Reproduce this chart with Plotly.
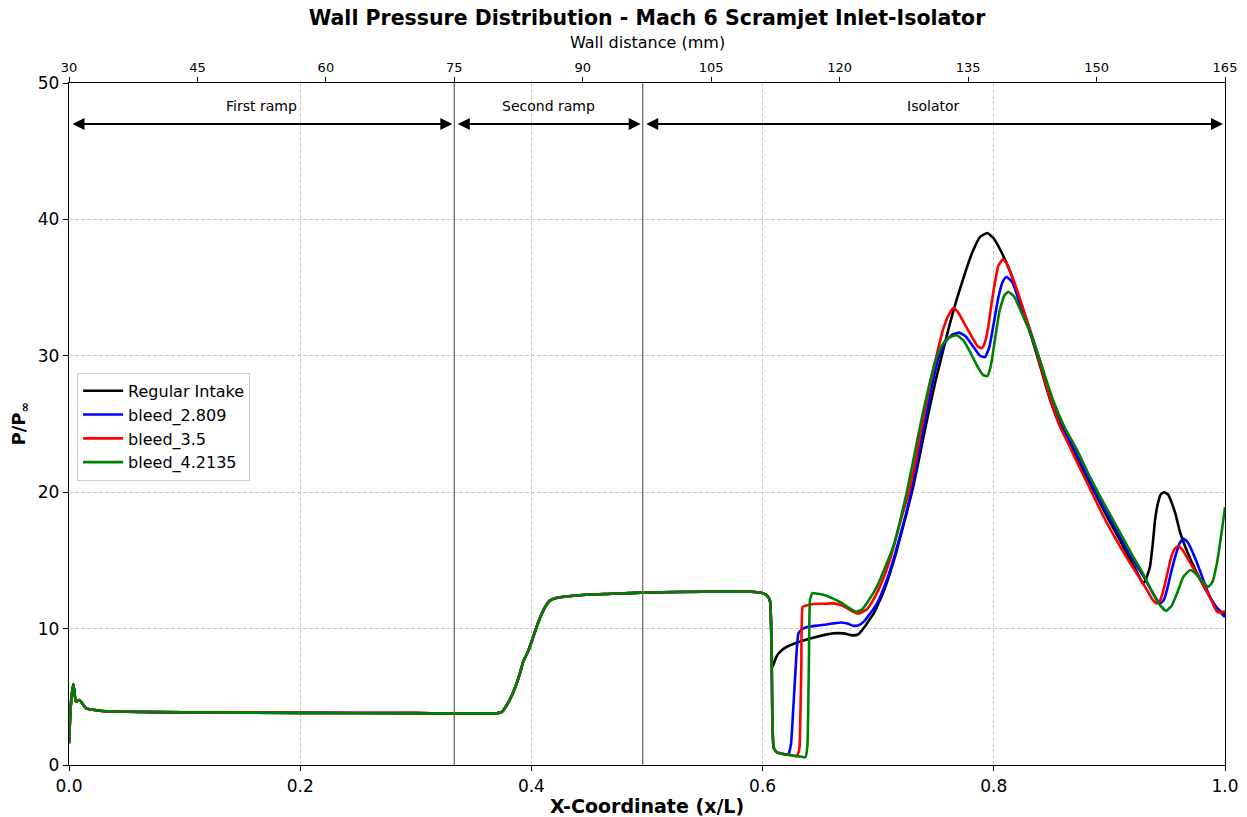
import plotly.graph_objects as go

# ---------------- data ----------------
# shared part of all four curves (x/L, P/Pinf)
x_common = [0.0, 0.0015, 0.0037, 0.006, 0.009, 0.015, 0.027, 0.05, 0.1, 0.2, 0.3, 0.37,
            0.3745, 0.378, 0.382, 0.386, 0.39, 0.393, 0.397, 0.400, 0.404, 0.408, 0.412,
            0.416, 0.42, 0.43, 0.45, 0.47, 0.5, 0.55, 0.59, 0.60, 0.604, 0.6065]
p_common = [1.6, 4.3, 5.94, 4.64, 4.77, 4.15, 3.98, 3.9, 3.86, 3.82, 3.8, 3.8,
            3.9, 4.3, 4.9, 5.7, 6.7, 7.6, 8.3, 9.0, 10.0, 10.9, 11.6,
            12.05, 12.2, 12.35, 12.5, 12.55, 12.65, 12.7, 12.7, 12.6, 12.4, 12.0]

x_regular = [0.6085, 0.610, 0.612, 0.615, 0.621, 0.632, 0.647, 0.661, 0.670, 0.678, 0.683,
             0.688, 0.692, 0.696, 0.70, 0.705, 0.71, 0.715, 0.72, 0.725, 0.73, 0.735, 0.74,
             0.745, 0.75, 0.755, 0.76, 0.765, 0.77, 0.776, 0.782, 0.788, 0.7944, 0.80, 0.806,
             0.814, 0.8195, 0.827, 0.8375, 0.8486, 0.858, 0.869, 0.878, 0.887, 0.898, 0.909,
             0.919, 0.926, 0.929, 0.9315, 0.935, 0.9375, 0.9394, 0.942, 0.9445, 0.9475, 0.951,
             0.954, 0.9575, 0.961, 0.967, 0.975, 0.985, 0.993, 1.0]
p_regular = [7.2, 7.5, 7.94, 8.3, 8.67, 9.04, 9.4, 9.65, 9.65, 9.5, 9.6,
             10.1, 10.6, 11.1, 11.8, 12.8, 14.0, 15.4, 17.0, 18.6, 20.3, 22.3, 24.4,
             26.4, 28.3, 30.0, 31.7, 33.3, 34.7, 36.3, 37.7, 38.7, 39.0, 38.6, 37.7,
             36.2, 34.9, 32.9, 30.0, 26.8, 24.7, 23.0, 21.5, 20.0, 18.2, 16.5,
             14.9, 13.8, 13.3, 13.6, 14.5, 16.2, 17.9, 19.2, 19.85, 20.0, 19.8,
             19.2, 18.3, 17.1, 15.7, 14.2, 12.6, 11.5, 11.0]

x_b2809 = [0.6085, 0.6095, 0.612, 0.615, 0.622, 0.6245, 0.627, 0.6295, 0.631, 0.634, 0.638,
           0.645, 0.655, 0.663, 0.668, 0.674, 0.679, 0.683, 0.688, 0.693, 0.698, 0.703, 0.708,
           0.713, 0.718, 0.724, 0.729, 0.734, 0.740, 0.746, 0.752, 0.758, 0.764, 0.770, 0.776,
           0.782, 0.788, 0.7924, 0.796, 0.800, 0.804, 0.808, 0.811, 0.816, 0.822, 0.8285,
           0.839, 0.850, 0.859, 0.870, 0.879, 0.888, 0.899, 0.910, 0.920, 0.929, 0.937, 0.942,
           0.944, 0.947, 0.950, 0.953, 0.957, 0.961, 0.964, 0.968, 0.975, 0.987, 0.995, 1.0]
p_b2809 = [3.0, 1.3, 0.95, 0.86, 0.75, 1.5, 4.8, 8.4, 9.65, 9.95, 10.1,
           10.2, 10.3, 10.4, 10.45, 10.35, 10.2, 10.25, 10.55, 11.1, 11.7, 12.6, 13.7,
           15.0, 16.5, 18.4, 20.2, 22.4, 25.0, 27.6, 29.8, 31.0, 31.55, 31.7, 31.4,
           30.7, 30.0, 29.9, 30.6, 32.4, 34.3, 35.5, 35.8, 35.4, 34.0, 32.6,
           29.9, 26.8, 24.8, 23.1, 21.5, 20.0, 18.3, 16.6, 15.1, 13.9, 12.7, 12.0,
           11.85, 12.1, 12.9, 14.0, 15.3, 16.3, 16.6, 16.3, 15.0, 12.3, 11.3, 10.85]

x_b35 = [0.6085, 0.6095, 0.612, 0.615, 0.622, 0.6295, 0.631, 0.632, 0.6335, 0.6347, 0.638,
         0.644, 0.652, 0.661, 0.667, 0.673, 0.678, 0.683, 0.690, 0.695, 0.70, 0.705, 0.71,
         0.715, 0.72, 0.7265, 0.732, 0.739, 0.745, 0.751, 0.756, 0.761, 0.765, 0.769, 0.775,
         0.781, 0.786, 0.7895, 0.792, 0.795, 0.798, 0.801, 0.804, 0.8077, 0.811, 0.818,
         0.8275, 0.838, 0.849, 0.858, 0.867, 0.876, 0.8847, 0.895, 0.906, 0.915, 0.9236,
         0.932, 0.9375, 0.941, 0.944, 0.947, 0.950, 0.953, 0.9565, 0.9596, 0.963, 0.970,
         0.980, 0.987, 0.993, 0.997, 1.0]
p_b35 = [3.0, 1.3, 0.95, 0.86, 0.75, 0.65, 0.9, 1.35, 7.2, 11.6, 11.7,
         11.8, 11.82, 11.85, 11.75, 11.5, 11.25, 11.1, 11.4, 12.0, 12.8, 13.8, 15.0,
         16.5, 18.1, 20.0, 22.2, 25.4, 28.0, 30.2, 31.9, 33.0, 33.5, 33.2, 32.3,
         31.4, 30.7, 30.55, 30.9, 32.0, 33.8, 35.4, 36.6, 37.07, 36.8, 35.3,
         32.9, 30.0, 26.8, 24.7, 23.1, 21.5, 20.0, 18.2, 16.5, 15.2, 14.05,
         12.9, 12.1, 11.85, 12.1, 12.9, 14.0, 15.1, 15.85, 16.05, 15.8, 14.8,
         13.4, 12.3, 11.25, 11.15, 11.3]

x_b42135 = [0.6085, 0.6095, 0.612, 0.615, 0.622, 0.630, 0.634, 0.637, 0.6387, 0.640, 0.641,
            0.643, 0.648, 0.654, 0.661, 0.668, 0.675, 0.681, 0.686, 0.692, 0.699, 0.706,
            0.713, 0.719, 0.7247, 0.730, 0.7376, 0.744, 0.749, 0.7535, 0.758, 0.763, 0.768,
            0.774, 0.780, 0.786, 0.7905, 0.7944, 0.7975, 0.801, 0.805, 0.809, 0.8126, 0.818,
            0.8227, 0.829, 0.839, 0.851, 0.861, 0.872, 0.881, 0.890, 0.901, 0.912, 0.921,
            0.929, 0.937, 0.944, 0.949, 0.954, 0.959, 0.964, 0.970, 0.975, 0.980, 0.9856,
            0.989, 0.993, 0.997, 1.0]
p_b42135 = [3.5, 1.3, 0.95, 0.86, 0.75, 0.65, 0.6, 0.57, 1.35, 7.2, 12.1,
            12.6, 12.55, 12.45, 12.2, 11.9, 11.5, 11.24, 11.4, 12.1, 13.1, 14.5,
            16.0, 17.9, 20.0, 22.2, 25.4, 27.8, 29.5, 30.5, 31.1, 31.4, 31.5,
            31.1, 30.2, 29.2, 28.6, 28.5, 29.3, 31.2, 33.3, 34.4, 34.7, 34.3,
            33.4, 32.2, 29.9, 26.8, 24.8, 23.1, 21.5, 20.0, 18.3, 16.6, 15.2,
            14.05, 12.7, 11.7, 11.3, 11.7, 12.7, 13.8, 14.3, 14.0, 13.5, 13.07,
            13.4, 14.8, 17.0, 18.9]

series_names = ["Regular Intake", "bleed_2.809", "bleed_3.5", "bleed_4.2135"]
series_colors = ["#000000", "#0000ff", "#ff0000", "#008000"]
series_x = [x_regular, x_b2809, x_b35, x_b42135]
series_p = [p_regular, p_b2809, p_b35, p_b42135]

# wall-distance axis (mm) and sections
mm_min, mm_max = 30, 165
mm_ticks = [30, 45, 60, 75, 90, 105, 120, 135, 150, 165]
section_bounds_mm = [30, 75, 97, 165]
section_names = ["First ramp", "Second ramp", "Isolator"]
arrow_level = 47.0
label_level = 48.35

x_ticks = [0.0, 0.2, 0.4, 0.6, 0.8, 1.0]
y_ticks = [0, 10, 20, 30, 40, 50]


def mm_to_xl(mm):
    return (mm - mm_min) / (mm_max - mm_min)


# ---------------- figure ----------------
fig = go.Figure()
for name, col, xs, ps in zip(series_names, series_colors, series_x, series_p):
    fig.add_trace(go.Scatter(
        x=x_common + xs, y=p_common + ps, mode="lines", name=name,
        line=dict(color=col, width=2.6, shape="spline", smoothing=0.4),
        hoverinfo="skip"))

# invisible helper trace on the top axis
fig.add_trace(go.Scatter(x=[mm_min, mm_max], y=[0, 0], xaxis="x2", mode="lines",
                         line=dict(width=0), opacity=0, showlegend=False,
                         hoverinfo="skip"))

shapes = []
for b in section_bounds_mm[1:-1]:
    xb = mm_to_xl(b)
    shapes.append(dict(type="line", xref="x", yref="paper", x0=xb, x1=xb, y0=0, y1=1,
                       line=dict(color="#6a6a6a", width=1.3)))

annotations = []
for i, nm in enumerate(section_names):
    x0 = mm_to_xl(section_bounds_mm[i])
    x1 = mm_to_xl(section_bounds_mm[i + 1])
    annotations.append(dict(x=x1, y=arrow_level, ax=x0, ay=arrow_level, xref="x", yref="y",
                            axref="x", ayref="y", text="", showarrow=True, arrowhead=2,
                            arrowside="end+start", arrowwidth=2, arrowsize=1.2,
                            arrowcolor="black", standoff=2, startstandoff=2))
    annotations.append(dict(x=(x0 + x1) / 2, y=label_level, xref="x", yref="y", text=nm,
                            showarrow=False, font=dict(size=14, color="black")))

annotations.append(dict(x=0.5, y=1.0587, xref="paper", yref="paper",
                        text="Wall distance (mm)", showarrow=False,
                        font=dict(size=16, color="black"), yanchor="middle"))
annotations.append(dict(x=0.5, y=-0.060, xref="paper", yref="paper",
                        text="<b>X-Coordinate (x/L)</b>", showarrow=False,
                        font=dict(size=19, color="black"), yanchor="middle"))
annotations.append(dict(x=-0.042, y=0.5, xref="paper", yref="paper",
                        text="<b>P/P<sub>∞</sub></b>", showarrow=False, textangle=-90,
                        font=dict(size=18, color="black"), xanchor="center"))

fig.update_layout(
    width=1247, height=817,
    margin=dict(l=69, r=22, t=83, b=52, autoexpand=False),
    plot_bgcolor="white", paper_bgcolor="white",
    font=dict(family="DejaVu Sans", color="black"),
    title=dict(text="<b>Wall Pressure Distribution - Mach 6 Scramjet Inlet-Isolator</b>",
               x=0.5, xref="paper", y=1 - 18 / 817, yref="container",
               xanchor="center", yanchor="middle", font=dict(size=20.5, color="black")),
    xaxis=dict(range=[0, 1], tickvals=x_ticks, ticktext=[f"{v:.1f}" for v in x_ticks],
               ticks="outside", ticklen=5, tickcolor="black", showline=True,
               linecolor="black", linewidth=1.3, showgrid=True, gridcolor="#cccccc",
               griddash="4px,2px", gridwidth=1, zeroline=False, automargin=False,
               tickfont=dict(size=17, color="black")),
    xaxis2=dict(range=[mm_min, mm_max], overlaying="x", side="top", anchor="y",
                tickvals=mm_ticks, ticks="outside", ticklen=5, tickcolor="black",
                showline=True, linecolor="black", linewidth=1.3, showgrid=False,
                zeroline=False, automargin=False, tickfont=dict(size=13, color="black")),
    yaxis=dict(range=[0, 50], tickvals=y_ticks, ticks="outside", ticklen=5,
               tickcolor="black", showline=True, mirror=True, linecolor="black",
               linewidth=1.3, showgrid=True, gridcolor="#cccccc", griddash="4px,2px",
               gridwidth=1, zeroline=False, automargin=False,
               tickfont=dict(size=17, color="black")),
    legend=dict(x=0.007, y=0.575, xanchor="left", yanchor="top", bgcolor="white",
                bordercolor="#cccccc", borderwidth=1, font=dict(size=16, color="black"),
                tracegroupgap=0, itemwidth=40),
    shapes=shapes,
    annotations=annotations,
    showlegend=True,
)

fig.write_html("out.html")
